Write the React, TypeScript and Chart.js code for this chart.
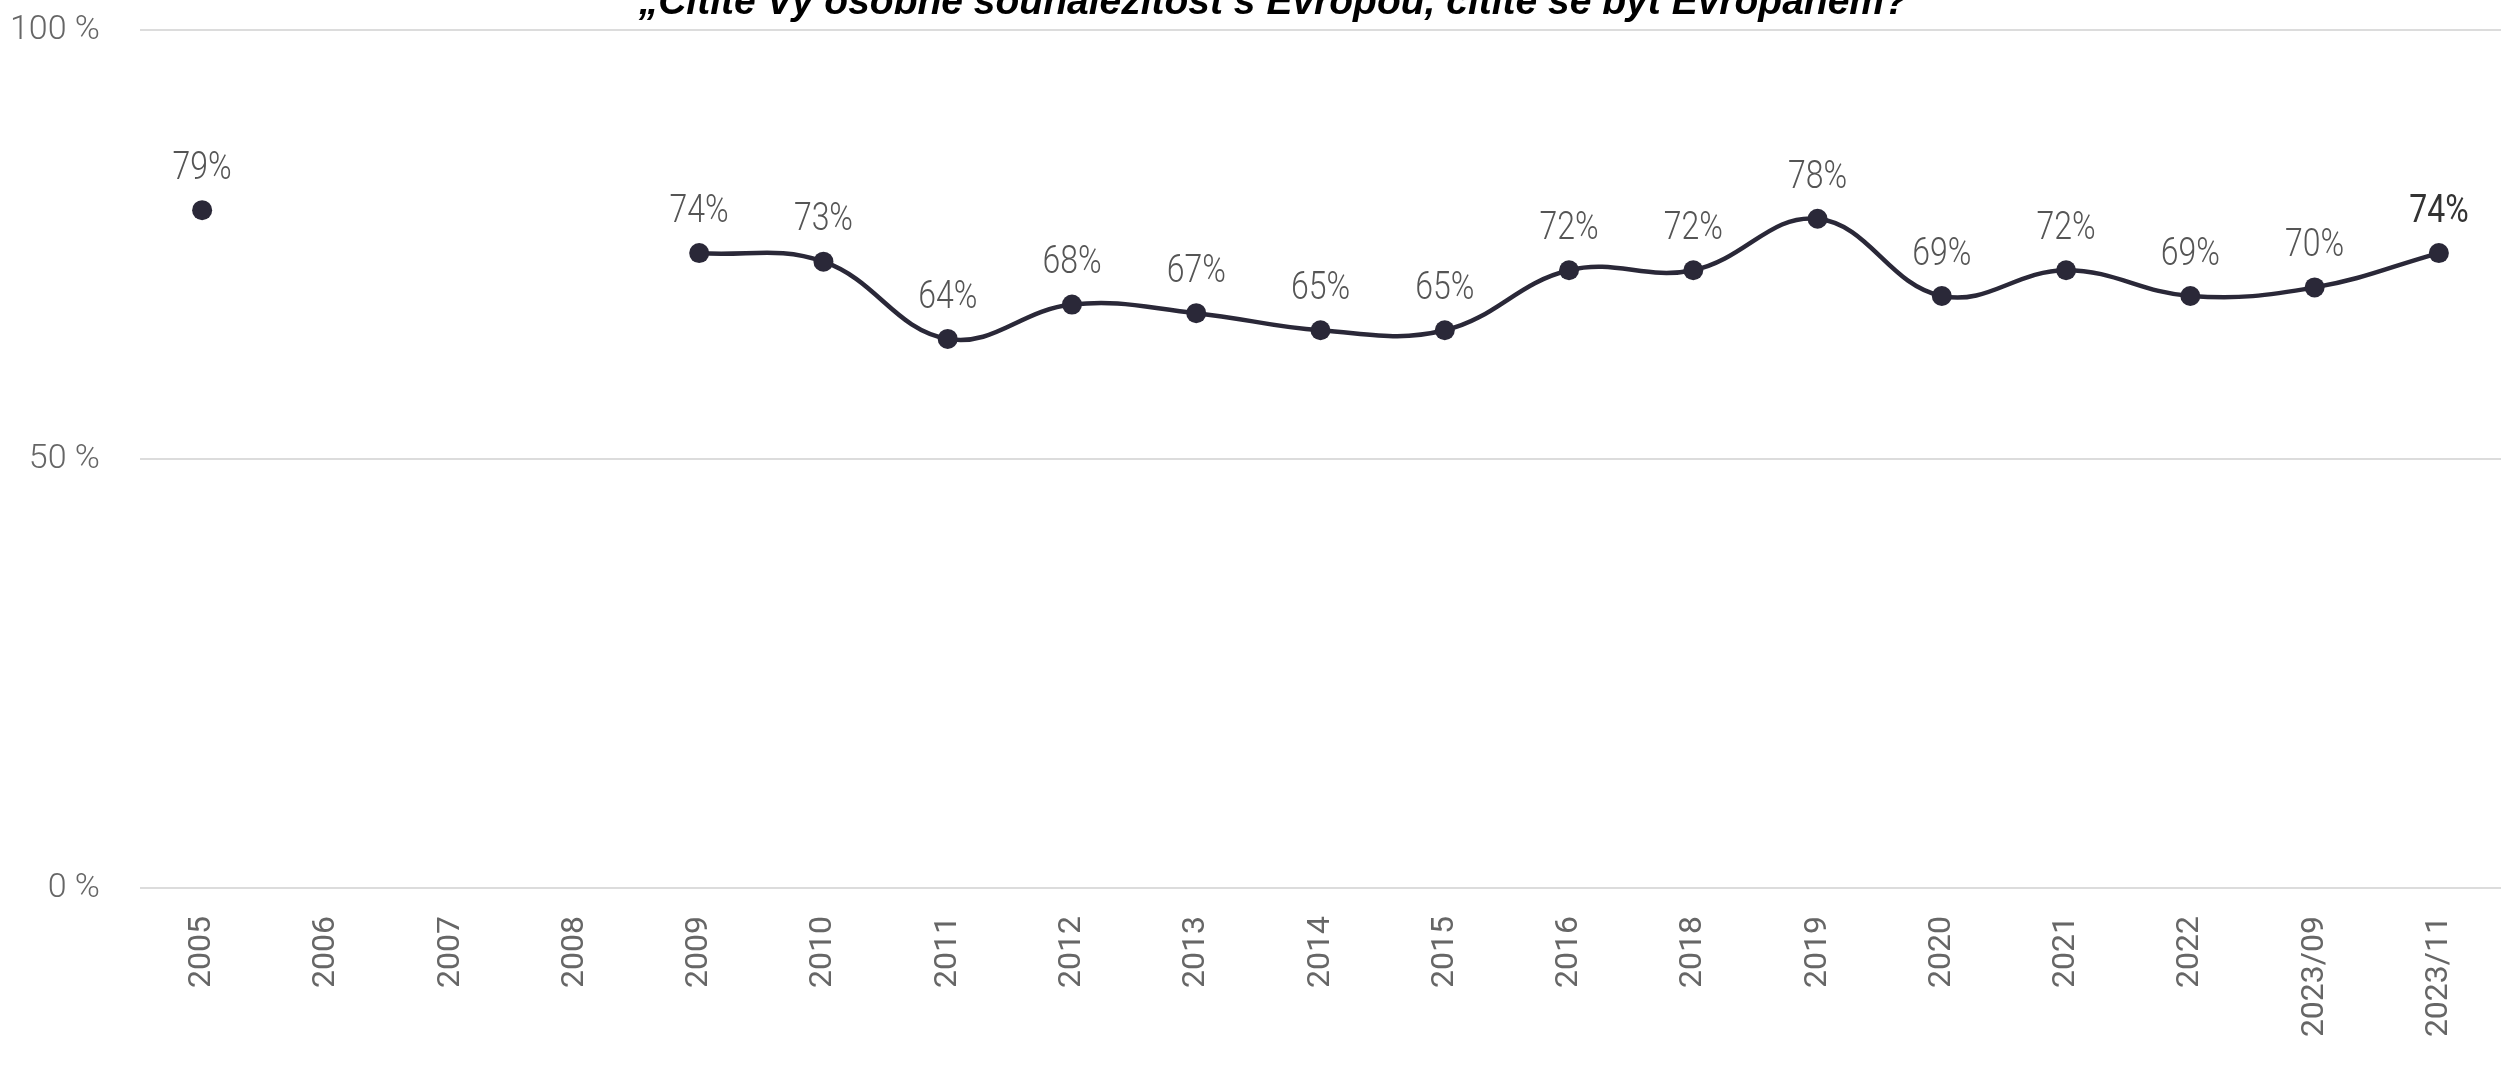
import React, { useEffect, useRef } from "react";
import { Chart, registerables } from "chart.js";

Chart.register(...registerables);

const categories = [
  "2005", "2006", "2007", "2008", "2009", "2010", "2011", "2012", "2013", "2014",
  "2015", "2016", "2018", "2019", "2020", "2021", "2022", "2023/09", "2023/11",
];
const shareEuropean: (number | null)[] = [
  79, null, null, null, 74, 73, 64, 68, 67, 65,
  65, 72, 72, 78, 69, 72, 69, 70, 74,
];
const yTickValues = [0, 50, 100];
const titleText = "„Cítíte Vy osobně sounáležitost s Evropou, cítíte se být Evropanem?“";

const LINE_COLOR = "#2a2838";

const titlePlugin = {
  id: "cutTitle",
  afterDraw(chart: any) {
    const ctx = chart.ctx;
    ctx.save();
    ctx.font = 'italic bold 39px "Liberation Sans", Arial, sans-serif';
    ctx.fillStyle = "#000";
    ctx.textAlign = "center";
    ctx.textBaseline = "alphabetic";
    ctx.fillText(titleText, 1283, 14);
    ctx.restore();
  },
};

const labelPlugin = {
  id: "pointLabels",
  afterDatasetsDraw(chart: any) {
    const ctx = chart.ctx;
    const meta = chart.getDatasetMeta(0);
    const data = chart.data.datasets[0].data as (number | null)[];
    const lastIdx = data.length - 1;
    meta.data.forEach((pt: any, i: number) => {
      const v = data[i];
      if (v === null || v === undefined) return;
      const isLast = i === lastIdx;
      ctx.save();
      ctx.translate(pt.x, pt.y - 41);
      ctx.scale(0.82, 1);
      ctx.font = (isLast ? "400" : "300") + ' 39px Roboto, "Noto Sans", sans-serif';
      ctx.fillStyle = isLast ? "#333333" : "#555555";
      ctx.textAlign = "center";
      ctx.textBaseline = "middle";
      ctx.fillText(`${v}%`, 0, 0);
      ctx.restore();
    });
  },
};

export default function App() {
  const canvasRef = useRef<HTMLCanvasElement | null>(null);

  useEffect(() => {
    document.body.style.margin = "0";
    document.body.style.overflow = "hidden";
    document.documentElement.style.overflow = "hidden";
    const canvas = canvasRef.current;
    if (!canvas) return;
    const chart = new Chart(canvas, {
      type: "line",
      data: {
        labels: categories,
        datasets: [
          {
            data: shareEuropean,
            borderColor: LINE_COLOR,
            backgroundColor: LINE_COLOR,
            borderWidth: 4.5,
            tension: 0.4,
            spanGaps: false,
            pointRadius: 10,
            pointHoverRadius: 10,
            pointBackgroundColor: LINE_COLOR,
            pointBorderWidth: 0,
            clip: false,
          },
        ],
      },
      options: {
        animation: false,
        responsive: true,
        maintainAspectRatio: false,
        layout: { autoPadding: false, padding: { top: 30, right: 0, bottom: 0, left: 0 } },
        plugins: {
          legend: { display: false },
          tooltip: { enabled: false },
          title: { display: false },
        },
        scales: {
          x: {
            type: "category",
            offset: true,
            grid: { display: false },
            border: { display: false },
            ticks: {
              minRotation: 90,
              maxRotation: 90,
              autoSkip: false,
              padding: 20,
              color: "#666666",
              font: { family: "Roboto", size: 32, weight: "400" },
            },
            afterFit(scale: any) {
              scale.height = 187;
              scale.paddingLeft = 0;
              scale.paddingRight = 0;
            },
          },
          y: {
            min: 0,
            max: 100,
            afterBuildTicks(scale: any) {
              scale.ticks = yTickValues.map((v) => ({ value: v }));
            },
            grid: { color: "#dcdcdc", lineWidth: 2, drawTicks: false },
            border: { display: false },
            ticks: {
              padding: 40,
              color: "#666666",
              font: { family: "Roboto", size: 34, weight: "300" },
              callback: (v: any) => `${v} %`,
            },
            afterFit(scale: any) {
              scale.width = 140;
              scale.paddingTop = 0;
              scale.paddingBottom = 0;
            },
          },
        },
      },
      plugins: [labelPlugin, titlePlugin],
    });
    return () => chart.destroy();
  }, []);

  return (
    <div style={{ position: "relative", width: "2501px", height: "1075px" }}>
      <canvas ref={canvasRef} />
    </div>
  );
}
